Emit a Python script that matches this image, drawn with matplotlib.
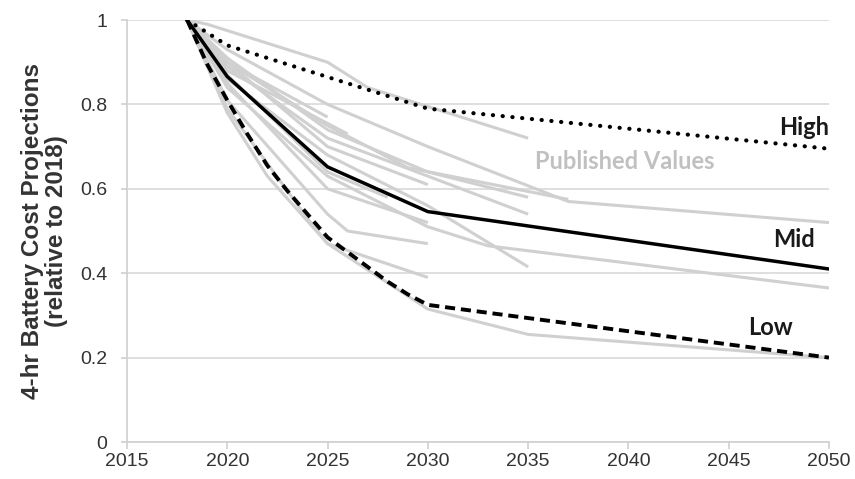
import matplotlib
matplotlib.use("Agg")
import matplotlib.pyplot as plt

# Scenario projections (relative to 2018)
high_years = [2018, 2020, 2030, 2050]
high_vals = [1.0, 0.94, 0.79, 0.695]

mid_years = [2018, 2020, 2025, 2030, 2050]
mid_vals = [1.0, 0.866, 0.652, 0.546, 0.41]

low_years = [2018, 2019, 2020, 2021, 2022, 2023, 2024, 2025, 2026, 2027, 2028, 2029, 2030, 2050]
low_vals = [1.0, 0.895, 0.81, 0.73, 0.655, 0.595, 0.54, 0.485, 0.45, 0.415, 0.38, 0.35, 0.325, 0.20]

# Published values (grey lines), one (years, values) pair each
pub_a = ([2018, 2019, 2025, 2027, 2035], [1.0, 0.99, 0.90, 0.84, 0.72])
pub_b = ([2018, 2020, 2025, 2030, 2037, 2050], [1.0, 0.93, 0.80, 0.70, 0.57, 0.52])
pub_c = ([2018, 2020, 2025, 2029, 2037], [1.0, 0.90, 0.75, 0.65, 0.575])
pub_d = ([2018, 2020, 2025], [1.0, 0.90, 0.77])
pub_e = ([2018, 2020, 2026], [1.0, 0.88, 0.73])
pub_f = ([2018, 2020, 2025, 2030, 2035], [1.0, 0.89, 0.72, 0.63, 0.54])
pub_g = ([2018, 2020, 2025, 2030, 2035], [1.0, 0.86, 0.68, 0.56, 0.415])
pub_h = ([2018, 2020, 2025, 2030, 2033, 2050], [1.0, 0.84, 0.63, 0.51, 0.465, 0.365])
pub_i = ([2018, 2020, 2025, 2026, 2030], [1.0, 0.81, 0.54, 0.50, 0.47])
pub_j = ([2018, 2020, 2024, 2025, 2030], [1.0, 0.79, 0.53, 0.47, 0.39])
pub_k = ([2018, 2020, 2022, 2025, 2030, 2035, 2050], [1.0, 0.78, 0.63, 0.47, 0.315, 0.255, 0.20])
pub_l = ([2018, 2020, 2025, 2030], [1.0, 0.90, 0.70, 0.61])
pub_m = ([2018, 2020, 2025, 2030], [1.0, 0.85, 0.60, 0.52])
pub_n = ([2018, 2020, 2025, 2028], [1.0, 0.87, 0.64, 0.58])
pub_o = ([2018, 2020, 2025, 2030, 2035], [1.0, 0.91, 0.74, 0.64, 0.58])

published = [pub_a, pub_b, pub_c, pub_d, pub_e, pub_f, pub_g, pub_h,
             pub_i, pub_j, pub_k, pub_l, pub_m, pub_n, pub_o]

x_ticks = [2015, 2020, 2025, 2030, 2035, 2040, 2045, 2050]
y_ticks = [0, 0.2, 0.4, 0.6, 0.8, 1]
y_tick_labels = ["0", "0.2", "0.4", "0.6", "0.8", "1"]

fig = plt.figure(figsize=(8.55, 4.79), dpi=100)
ax = fig.add_axes([0.1485, 0.0772, 0.8211, 0.881])

for yrs, vals in published:
    ax.plot(yrs, vals, color="#d0d0d0", lw=2.2, solid_capstyle="butt", zorder=2)

ax.plot(high_years, high_vals, color="black", lw=3.0, linestyle=(0, (0.05, 2.3)),
        dash_capstyle="round", zorder=3)
ax.plot(mid_years, mid_vals, color="black", lw=2.5, zorder=3)
ax.plot(low_years, low_vals, color="black", lw=2.8, linestyle=(0, (2.6, 1.5)), zorder=3)

lab_font = ["Lato", "DejaVu Sans"]
ax.text(2050, 0.745, "High", ha="right", va="center", fontsize=17,
        fontweight="bold", color="#1a1a1a", family=lab_font)
ax.text(2049.3, 0.48, "Mid", ha="right", va="center", fontsize=17,
        fontweight="bold", color="#1a1a1a", family=lab_font)
ax.text(2048.2, 0.272, "Low", ha="right", va="center", fontsize=17,
        fontweight="bold", color="#1a1a1a", family=lab_font)
ax.text(2039.8, 0.665, "Published Values", ha="center", va="center", fontsize=17,
        fontweight="bold", color="#c0c0c0", family=lab_font)

ax.set_xlim(2015, 2050)
ax.set_ylim(0, 1)
ax.set_xticks(x_ticks)
ax.set_yticks(y_ticks)
ax.set_yticklabels(y_tick_labels)
ax.grid(axis="y", color="#d9d9d9", lw=1.2, zorder=0)
ax.set_axisbelow(True)

for side in ["top", "right"]:
    ax.spines[side].set_visible(False)
for side in ["left", "bottom"]:
    ax.spines[side].set_color("#d0d0d0")
    ax.spines[side].set_linewidth(1.2)

ax.tick_params(axis="x", length=5, width=1.2, color="#d0d0d0", pad=3,
               labelsize=14, labelcolor="#333333")
ax.tick_params(axis="y", length=4, width=1.2, color="#d0d0d0", pad=10,
               labelsize=14, labelcolor="#333333")
for lbl in ax.get_xticklabels() + ax.get_yticklabels():
    lbl.set_family(["Liberation Sans", "DejaVu Sans"])

ax.set_ylabel("4-hr Battery Cost Projections\n(relative to 2018)", fontsize=17.5,
              fontweight="bold", color="#333333", linespacing=1.05,
              family=["Liberation Sans", "DejaVu Sans"], labelpad=9)

fig.savefig("out.png", dpi=100, facecolor="white")
